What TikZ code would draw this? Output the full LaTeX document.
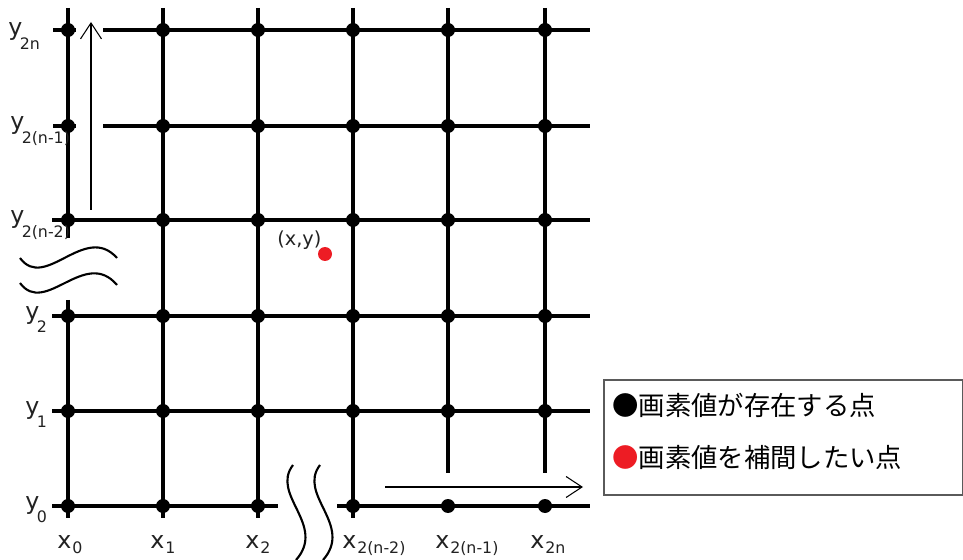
\documentclass[tikz,border=0pt]{standalone}
\usepackage{fontspec}
\setmainfont{DejaVu Sans}
\newfontfamily\cjk{Noto Sans CJK JP}
\usetikzlibrary{arrows.meta, math}
\definecolor{ptred}{HTML}{ED1C24}
\definecolor{lblgray}{HTML}{222222}
\definecolor{boxgray}{HTML}{5A5A5A}
\newcommand{\ylbl}[1]{y\kern-1.5pt\raisebox{-0.27cm}{\fontsize{9}{9}\selectfont #1}}
\newcommand{\xlbl}[1]{x\kern0.5pt\raisebox{-0.1cm}{\fontsize{9}{9}\selectfont #1}}

\begin{document}
\begin{tikzpicture}[x=0.02cm, y=-0.02cm,
  gridline/.style={line width=2.1pt},
  pixel/.style={circle, fill=black, inner sep=0pt, minimum size=0.28cm},
  lbl/.style={anchor=base west, inner sep=0pt, text=lblgray, font=\fontsize{13.5}{13.5}\selectfont},
  thinarrow/.style={line width=0.6pt, -{Straight Barb[length=0.32cm, width=0.42cm, line width=0.6pt]}},
  wave/.style={line width=1.2pt}]
\useasboundingbox (0,0) rectangle (963,560);
\tikzmath{
\gtop=8;
\gbot=518;
\gright=590;
}

% vertical lines
\draw[gridline] (68,\gtop) -- (68,238);
\draw[gridline] (68,300) -- (68,\gbot);
\foreach \xp in {163,258,353}{
\draw[gridline] (\xp,\gtop) -- (\xp,\gbot);
}
\foreach \xp in {448,545}{
\draw[gridline] (\xp,\gtop) -- (\xp,473);
}

% horizontal lines
\foreach \yp in {30,126}{
\draw[gridline] (53,\yp) -- (76,\yp);
\draw[gridline] (103,\yp) -- (\gright,\yp);
}
\foreach \yp in {220,316,411}{
\draw[gridline] (52,\yp) -- (\gright,\yp);
}
\draw[gridline] (52,506) -- (278,506);
\draw[gridline] (337,506) -- (\gright,506);

% pixels
\foreach \xp [count=\i from 0] in {68,163,258,353,448,545}{
\foreach \yp [count=\j from 0] in {506,411,316,220,126,30}{
\node[pixel] (p\i\j) at (\xp,\yp) {};
}
}

% point to interpolate
\node[pixel, fill=ptred] (target) at (325,254) {};
\node[lbl, font=\fontsize{11}{11}\selectfont] (targetlbl) at (277,246) {(x,y)};

% direction arrows
\draw[thinarrow] (91,210) -- (91,22);
\draw[thinarrow] (385,487) -- (583,487);

% omission marks
\draw[wave] (20,258) .. controls (45,292) and (85,222) .. (117,258);
\draw[wave] (20,283) .. controls (45,317) and (85,247) .. (117,285);
\draw[wave] (293,465) .. controls (270,495) and (327,525) .. (296,560);
\draw[wave] (320,465) .. controls (297,495) and (354,525) .. (323,560);

% axis labels
\foreach \yp/\xl/\sub in {36/8/2n, 130/10/2(n-1), 224/10/2(n-2), 319/25/2, 414/25/1, 509/25/0}{
\node[lbl] (ylbl\yp) at (\xl,\yp) {\ylbl{\sub}};
}
\foreach \xp/\sub in {57/0, 150/1, 245/2, 342/2(n-2), 435/2(n-1), 530/2n}{
\node[lbl] (xlbl\xp) at (\xp,548) {\xlbl{\sub}};
}

% legend
\node[draw=boxgray, line width=0.9pt, anchor=north west, minimum width=359*0.02cm, minimum height=115*0.02cm] (legend) at (603,379) {};
\node[anchor=west, inner sep=0pt, font=\cjk\fontsize{15}{15}\selectfont] (legA) at (612,405) {●画素値が存在する点};
\node[anchor=west, inner sep=0pt, font=\cjk\fontsize{15}{15}\selectfont] (legB) at (612,457) {\textcolor{ptred}{●}画素値を補間したい点};

\end{tikzpicture}
\end{document}
